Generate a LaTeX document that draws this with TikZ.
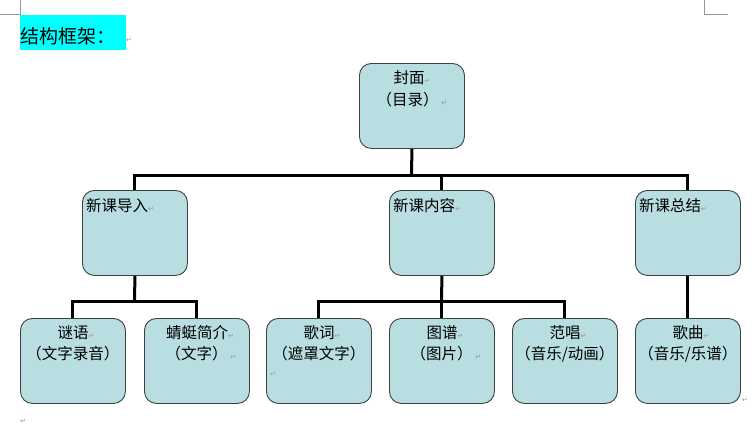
\documentclass[tikz,border=0pt]{standalone}
\usepackage{fontspec}
\setmainfont{Noto Sans CJK SC}
\newfontfamily\symfont{DejaVu Sans}
\definecolor{boxfill}{RGB}{185,222,226}
\definecolor{hl}{RGB}{0,255,255}
\definecolor{markgray}{RGB}{150,150,150}
\newcommand{\ret}{{\symfont\color{markgray}\fontsize{7}{7}\selectfont ↵}}
\begin{document}
\begin{tikzpicture}[x=1pt,y=-1pt,
  box/.style={draw=black!75,line width=0.9pt,fill=boxfill,rounded corners=12pt,
    minimum width=105pt,minimum height=85pt,inner sep=0pt,anchor=north west},
  txt/.style={inner sep=0pt,font=\fontsize{15.5}{15.5}\selectfont},
  conn/.style={line width=3pt,black},
  cropmark/.style={draw=markgray,line width=0.6pt}]
\useasboundingbox (0,0) rectangle (756,439);
\fill[white] (0,0) rectangle (756,439);
% crop marks
\draw[cropmark] (0,14) -- (20,14) -- (20,0);
\draw[cropmark] (704,0) -- (704,14) -- (728,14);
% title
\node[fill=hl,minimum width=106pt,minimum height=35pt,inner sep=0pt,anchor=north west] (titlebg) at (20,15) {};
\node[inner sep=0pt,anchor=west,font=\fontsize{19}{19}\selectfont] (title) at (20,36) {结构框架：};
\node[inner sep=0pt,anchor=west] (titleret) at (126,40) {\ret};
% boxes
\node[box] (top) at (359,63) {};
\node[box] (l2a) at (82,190) {};
\node[box] (l2b) at (389,190) {};
\node[box] (l2c) at (635,190) {};
\node[box] (l3a) at (20,318) {};
\node[box] (l3b) at (144,318) {};
\node[box] (l3c) at (266,318) {};
\node[box] (l3d) at (389,318) {};
\node[box] (l3e) at (512,318) {};
\node[box] (l3f) at (635,318) {};
% connectors
\coordinate (j1) at (411.5,175);
\coordinate (j2) at (134.5,301);
\coordinate (j3) at (441.5,301);
\draw[conn] (top.south) -- (j1);
\draw[conn] (l2a.north) |- (j1) -| (l2c.north);
\draw[conn] (l2b.north) -- (l2b.north |- j1);
\draw[conn] (l2a.south) -- (j2);
\draw[conn] (l3a.north) |- (j2) -| (l3b.north);
\draw[conn] (l2b.south) -- (j3);
\draw[conn] (l3c.north) |- (j3) -| (l3e.north);
\draw[conn] (l3d.north) -- (l3d.north |- j3);
\draw[conn] (l2c.south) -- (l3f.north);
% texts top
\node[txt] (t1a) at ([yshift=-15]top.north) {封面\ret};
\node[txt] (t1b) at ([yshift=-37]top.north) {（目录）\,\ret};
% level 2
\node[txt,anchor=west] (t2a) at ([xshift=4,yshift=-16]l2a.north west) {新课导入\ret};
\node[txt,anchor=west] (t2b) at ([xshift=4,yshift=-16]l2b.north west) {新课内容\ret};
\node[txt,anchor=west] (t2c) at ([xshift=4,yshift=-16]l2c.north west) {新课总结\ret};
% level 3
\node[txt] (t3a1) at ([xshift=3,yshift=-15]l3a.north) {谜语\ret};
\node[txt] (t3a2) at ([yshift=-36]l3a.north) {（文字录音）};
\node[txt] (t3b1) at ([xshift=3,yshift=-15]l3b.north) {蜻蜓简介\ret};
\node[txt] (t3b2) at ([xshift=4,yshift=-36]l3b.north) {（文字）\,\ret};
\node[txt] (t3c1) at ([xshift=3,yshift=-15]l3c.north) {歌词\ret};
\node[txt] (t3c2) at ([yshift=-36]l3c.north) {（遮罩文字）};
\node[inner sep=0pt] (t3c3) at ([xshift=7,yshift=-56]l3c.north west) {\ret};
\node[txt] (t3d1) at ([xshift=3,yshift=-15]l3d.north) {图谱\ret};
\node[txt] (t3d2) at ([xshift=4,yshift=-36]l3d.north) {（图片）\,\ret};
\node[txt] (t3e1) at ([xshift=3,yshift=-15]l3e.north) {范唱\ret};
\node[txt] (t3e2) at ([yshift=-36]l3e.north) {（音乐/动画）};
\node[txt] (t3f1) at ([xshift=3,yshift=-15]l3f.north) {歌曲\ret};
\node[txt] (t3f2) at ([yshift=-36]l3f.north) {（音乐/乐谱）};
% stray paragraph marks
\node[inner sep=0pt] (pm1) at (23,421) {\ret};
\node[inner sep=0pt] (pm2) at (745,400) {\ret};
\end{tikzpicture}
\end{document}
